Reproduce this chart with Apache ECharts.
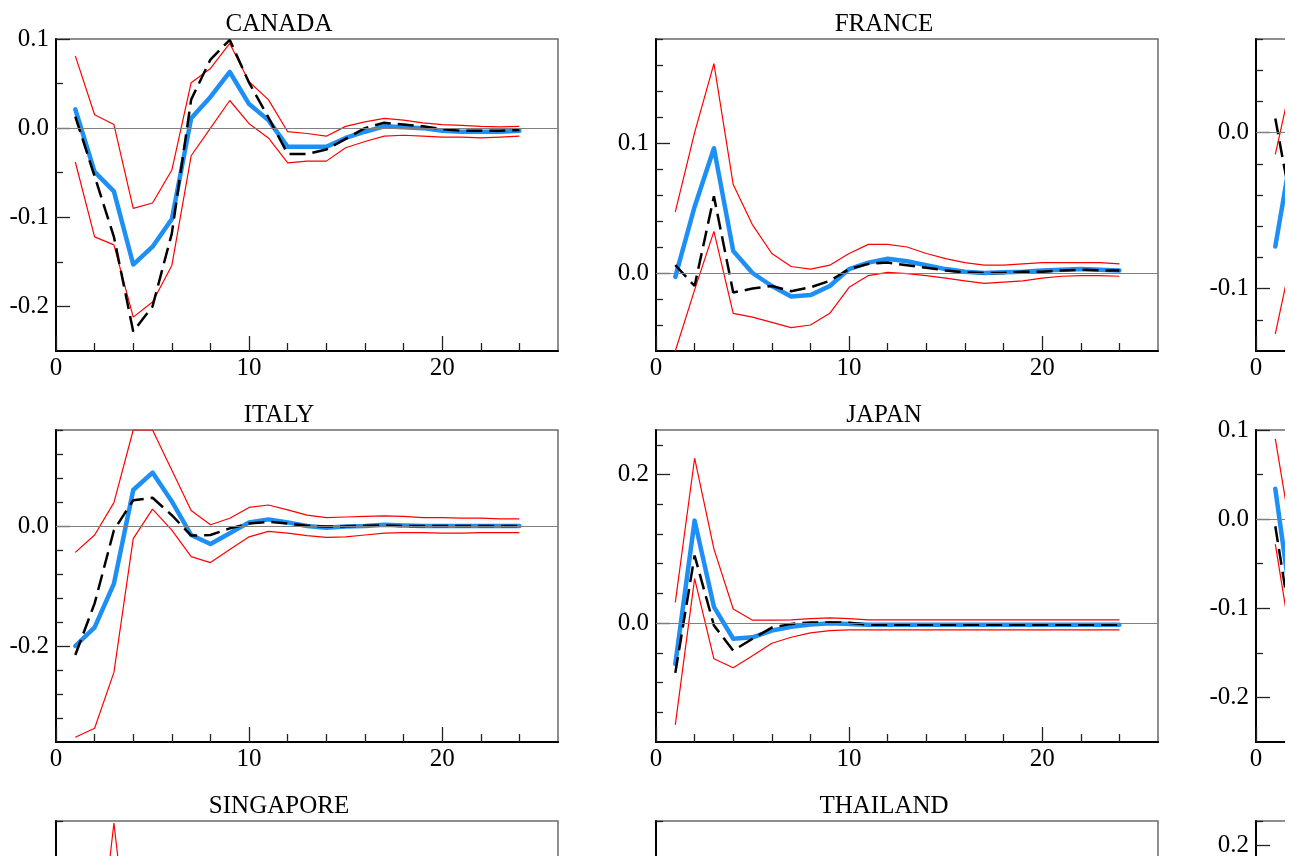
<!DOCTYPE html>
<html><head><meta charset="utf-8">
<script src="https://cdn.jsdelivr.net/npm/echarts@6/dist/echarts.min.js"></script>
<style>html,body{margin:0;padding:0;background:#fff}#c{width:1290px;height:856px}</style>
</head><body><div id="c"></div>
<script>
// ---------- data ----------
const horizon = [1,2,3,4,5,6,7,8,9,10,11,12,13,14,15,16,17,18,19,20,21,22,23,24];

const canadaMedian   = [0.021,-0.049,-0.071,-0.153,-0.133,-0.102,0.011,0.035,0.063,0.027,0.009,-0.021,-0.021,-0.021,-0.011,-0.004,0.002,0.001,0.000,-0.003,-0.004,-0.004,-0.004,-0.003];
const canadaEstimate = [0.013,-0.054,-0.122,-0.228,-0.200,-0.118,0.032,0.077,0.099,0.051,0.012,-0.029,-0.029,-0.024,-0.012,0.000,0.006,0.004,0.002,-0.001,-0.003,-0.003,-0.003,-0.002];
const canadaUpper    = [0.081,0.015,0.004,-0.090,-0.084,-0.047,0.051,0.067,0.095,0.052,0.032,-0.004,-0.006,-0.009,0.002,0.007,0.011,0.009,0.006,0.004,0.003,0.002,0.0015,0.002];
const canadaLower    = [-0.038,-0.122,-0.131,-0.212,-0.195,-0.154,-0.031,0.000,0.031,0.005,-0.011,-0.039,-0.037,-0.037,-0.022,-0.015,-0.009,-0.008,-0.009,-0.010,-0.010,-0.011,-0.010,-0.009];

const franceMedian   = [-0.003,0.051,0.096,0.017,0.000,-0.010,-0.018,-0.017,-0.010,0.003,0.008,0.011,0.009,0.006,0.003,0.001,0.000,0.0005,0.001,0.002,0.0025,0.003,0.0025,0.002];
const franceEstimate = [0.006,-0.010,0.059,-0.015,-0.012,-0.010,-0.014,-0.011,-0.006,0.003,0.007,0.008,0.006,0.004,0.002,0.0005,0.000,0.000,0.001,0.001,0.002,0.0025,0.002,0.002];
const franceUpper    = [0.047,0.108,0.161,0.068,0.037,0.015,0.005,0.003,0.006,0.015,0.022,0.022,0.020,0.015,0.011,0.008,0.006,0.006,0.007,0.008,0.008,0.008,0.008,0.007];
const franceLower    = [-0.060,-0.013,0.032,-0.031,-0.034,-0.038,-0.042,-0.040,-0.031,-0.011,-0.002,0.0005,-0.0005,-0.002,-0.004,-0.006,-0.008,-0.007,-0.006,-0.004,-0.0025,-0.002,-0.002,-0.0025];

const panel3Median   = [-0.073,-0.001];
const panel3Estimate = [0.009,-0.058];
const panel3Upper    = [-0.014,0.042];
const panel3Lower    = [-0.129,-0.071];

const italyMedian    = [-0.200,-0.169,-0.096,0.060,0.089,0.041,-0.015,-0.030,-0.012,0.006,0.011,0.006,0.000,-0.003,-0.001,0.000,0.002,0.001,0.000,0.000,0.000,0.000,0.000,0.000];
const italyEstimate  = [-0.215,-0.129,-0.007,0.043,0.047,0.018,-0.016,-0.015,-0.004,0.004,0.007,0.004,0.0005,-0.001,-0.0005,0.0005,0.001,0.000,0.000,0.000,0.000,0.000,0.000,0.000];
const italyUpper     = [-0.044,-0.015,0.039,0.160,0.160,0.093,0.026,0.002,0.013,0.031,0.035,0.027,0.018,0.014,0.015,0.016,0.017,0.016,0.014,0.014,0.013,0.013,0.012,0.012];
const italyLower     = [-0.352,-0.337,-0.244,-0.021,0.028,-0.007,-0.051,-0.061,-0.039,-0.018,-0.009,-0.012,-0.016,-0.019,-0.018,-0.015,-0.012,-0.011,-0.011,-0.012,-0.012,-0.011,-0.011,-0.011];

const japanMedian    = [-0.055,0.138,0.022,-0.021,-0.019,-0.010,-0.005,-0.002,0.000,-0.001,-0.002,-0.002,-0.002,-0.002,-0.002,-0.002,-0.002,-0.002,-0.002,-0.002,-0.002,-0.002,-0.002,-0.002];
const japanEstimate  = [-0.067,0.091,-0.003,-0.037,-0.021,-0.006,-0.001,0.001,0.001,0.0005,-0.002,-0.002,-0.002,-0.002,-0.002,-0.002,-0.002,-0.002,-0.002,-0.002,-0.002,-0.002,-0.002,-0.002];
const japanUpper     = [0.028,0.222,0.100,0.019,0.004,0.004,0.0045,0.006,0.007,0.006,0.0045,0.0045,0.0045,0.0045,0.0045,0.0045,0.0045,0.0045,0.0045,0.0045,0.0045,0.0045,0.0045,0.0045];
const japanLower     = [-0.137,0.060,-0.048,-0.060,-0.044,-0.027,-0.019,-0.013,-0.010,-0.009,-0.009,-0.009,-0.009,-0.009,-0.009,-0.009,-0.009,-0.009,-0.009,-0.009,-0.009,-0.009,-0.009,-0.009];

const panel6Median   = [0.034,-0.123];
const panel6Estimate = [-0.008,-0.144];
const panel6Upper    = [0.090,-0.040];
const panel6Lower    = [-0.028,-0.162];

const singaporeUpper = [null,0.16,0.595,0.16];

// tick labels
const xMajor = [0,10,20];
const xMinor = [2,4,6,8,12,14,16,18,22,24];
const canadaYMajor = [-0.2,-0.1,0,0.1];       const canadaYMinor = [-0.15,-0.05,0.05];
const franceYMajor = [0,0.1];                  const franceYMinor = [-0.04,-0.02,0.02,0.04,0.06,0.08,0.12,0.14,0.16,0.18];
const panel3YMajor = [-0.1,0];                 const panel3YMinor = [-0.12,-0.08,-0.06,-0.04,-0.02,0.02,0.04,0.06];
const italyYMajor  = [-0.2,0];                 const italyYMinor  = [-0.32,-0.28,-0.24,-0.16,-0.12,-0.08,-0.04,0.04,0.08,0.12,0.16];
const japanYMajor  = [0,0.2];                  const japanYMinor  = [-0.12,-0.08,-0.04,0.04,0.08,0.12,0.16,0.24];
const panel6YMajor = [-0.2,-0.1,0,0.1];        const panel6YMinor = [-0.15,-0.05,0.05];
const singaporeYMajor = [-0.2,0,0.2,0.4];      const singaporeYMinor = [-0.1,0.1,0.3,0.5,0.6];
const thailandYMajor  = [-0.2,0,0.2];          const thailandYMinor  = [-0.1,0.1,0.3];
const panel9YMajor = [-0.4,-0.2,0,0.2];        const panel9YMinor = [-0.3,-0.1,0.1,0.25];

// ---------- layout ----------
const colLeft = [56, 656, 1256];
const titleShift = [223, 228, 228];
const rowTop = [39, 430, 821];
const boxW = 502, boxH = 312;
const FONT = "'Liberation Serif','Times New Roman',serif";

const panels = [
  {title:'CANADA', c:0, r:0, ymin:-0.25, ymax:0.1, maj:canadaYMajor, mn:canadaYMinor, med:canadaMedian, est:canadaEstimate, up:canadaUpper, lo:canadaLower},
  {title:'FRANCE', c:1, r:0, ymin:-0.06, ymax:0.18, maj:franceYMajor, mn:franceYMinor, med:franceMedian, est:franceEstimate, up:franceUpper, lo:franceLower},
  {title:'', c:2, r:0, ymin:-0.14, ymax:0.06, maj:panel3YMajor, mn:panel3YMinor, med:panel3Median, est:panel3Estimate, up:panel3Upper, lo:panel3Lower},
  {title:'ITALY', c:0, r:1, ymin:-0.36, ymax:0.16, maj:italyYMajor, mn:italyYMinor, med:italyMedian, est:italyEstimate, up:italyUpper, lo:italyLower},
  {title:'JAPAN', c:1, r:1, ymin:-0.16, ymax:0.26, maj:japanYMajor, mn:japanYMinor, med:japanMedian, est:japanEstimate, up:japanUpper, lo:japanLower},
  {title:'', c:2, r:1, ymin:-0.25, ymax:0.1, maj:panel6YMajor, mn:panel6YMinor, med:panel6Median, est:panel6Estimate, up:panel6Upper, lo:panel6Lower},
  {title:'SINGAPORE', c:0, r:2, ymin:-0.2, ymax:0.6, maj:singaporeYMajor, mn:singaporeYMinor, med:[], est:[], up:singaporeUpper, lo:[]},
  {title:'THAILAND', c:1, r:2, ymin:-0.3, ymax:0.3, maj:thailandYMajor, mn:thailandYMinor, med:[], est:[], up:[], lo:[]},
  {title:'', c:2, r:2, ymin:-0.4, ymax:0.25, maj:panel9YMajor, mn:panel9YMinor, med:[], est:[], up:[], lo:[]}
];

const toPairs = arr => arr.map((v,i)=>[horizon[i], v]);

const grid=[], xAxis=[], yAxis=[], series=[], title=[];
panels.forEach((p,gi)=>{
  const left = colLeft[p.c], top = rowTop[p.r];
  grid.push({left:left, top:top, width:boxW, height:boxH, show:true, borderColor:'#6a6a6a', borderWidth:1.5,
    containLabel:false, outerBoundsMode:'none'});
  if (p.title) title.push({text:p.title, left:left+titleShift[p.c], top:top-27, textAlign:'center', padding:0,
    textStyle:{fontFamily:FONT, fontSize:25, fontWeight:'normal', color:'#000'}});
  xAxis.push({type:'value', gridIndex:gi, min:0, max:26, position:'bottom',
    axisLine:{show:true, onZero:false, lineStyle:{color:'#000', width:2}},
    axisTick:{show:true, inside:true, length:15, customValues:xMajor, lineStyle:{color:'#222', width:1.3}},
    axisLabel:{show:true, customValues:xMajor, margin:5, fontFamily:FONT, fontSize:25, color:'#000', formatter:v=>String(v)},
    splitLine:{show:false}});
  xAxis.push({type:'value', gridIndex:gi, min:0, max:26, position:'bottom',
    axisLine:{show:false, onZero:false}, axisTick:{show:true, inside:true, length:8, customValues:xMinor, lineStyle:{color:'#222', width:1.3}},
    axisLabel:{show:false}, splitLine:{show:false}});
  yAxis.push({type:'value', gridIndex:gi, min:p.ymin, max:p.ymax, position:'left',
    axisLine:{show:true, onZero:false, lineStyle:{color:'#000', width:2}},
    axisTick:{show:true, inside:true, length:14, customValues:p.maj, lineStyle:{color:'#222', width:1.3}},
    axisLabel:{show:true, customValues:p.maj, margin:7, fontFamily:FONT, fontSize:25, color:'#000', formatter:v=>(Math.abs(v)<1e-9?0:v).toFixed(1)},
    splitLine:{show:false}});
  yAxis.push({type:'value', gridIndex:gi, min:p.ymin, max:p.ymax, position:'left', offset:0,
    axisLine:{show:false, onZero:false}, axisTick:{show:true, inside:true, length:7, customValues:p.mn, lineStyle:{color:'#222', width:1.3}},
    axisLabel:{show:false}, splitLine:{show:false}});
  const xi = gi*2, yi = gi*2;
  const base = {type:'line', xAxisIndex:xi, yAxisIndex:yi, symbol:'none', silent:true, clip:true, animation:false};
  series.push(Object.assign({}, base, {data:toPairs(p.up), lineStyle:{color:'#ff0000', width:1.2},
    markLine:{silent:true, symbol:'none', label:{show:false}, animation:false,
      lineStyle:{color:'#808080', width:1.2, type:'solid'}, data:[{yAxis:0}]}}));
  series.push(Object.assign({}, base, {data:toPairs(p.lo), lineStyle:{color:'#ff0000', width:1.2}}));
  series.push(Object.assign({}, base, {data:toPairs(p.med), lineStyle:{color:'#1e8ff5', width:4.5, cap:'round', join:'round'}}));
  series.push(Object.assign({}, base, {data:toPairs(p.est), lineStyle:{color:'#000', width:2.5, type:[16,7]}}));
});

const chart = echarts.init(document.getElementById('c'), null, {renderer:'canvas'});
chart.setOption({animation:false, backgroundColor:'#fff', title, grid, xAxis, yAxis, series,
  graphic:[{type:'rect', right:0, top:0, shape:{width:5, height:856}, style:{fill:'#fff'}, z:100, silent:true}]});
</script>
</body></html>
